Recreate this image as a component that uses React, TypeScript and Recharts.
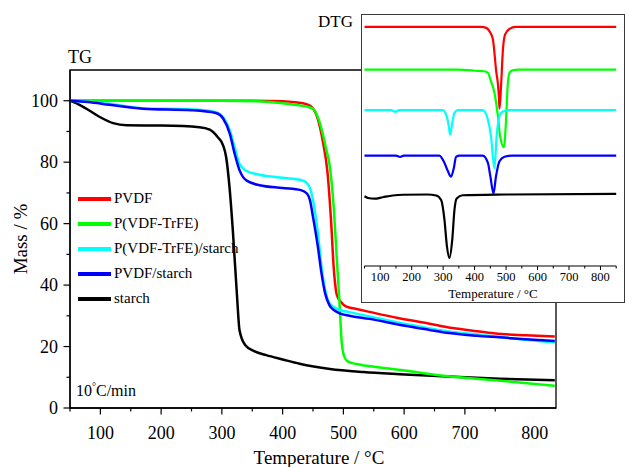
import React from "react";
import { LineChart, Line, XAxis, YAxis, ReferenceArea, Legend } from "recharts";

// ---------- TG data (Mass %) ----------
const pvdfT = [50, 150, 250, 350, 400, 420, 440, 450, 458, 466, 474, 480, 484, 489, 496, 505, 520, 545, 590, 640, 680, 720, 760, 800, 848];
const pvdfM = [100, 100, 100, 100, 99.8, 99.5, 98.8, 97.5, 94, 87, 76.4, 60, 46, 37, 34.5, 33, 32.3, 31.2, 29.3, 27.5, 26, 25, 24.1, 23.7, 23.3];

const trfeT = [50, 200, 300, 360, 400, 430, 445, 452, 460, 466, 472, 477, 484, 489, 494, 497, 501, 506, 515, 530, 560, 600, 660, 720, 780, 848];
const trfeM = [100, 100, 100, 99.8, 99.2, 98.4, 97.8, 97, 93.5, 89.3, 84, 79.5, 65.5, 49.2, 33, 22, 17, 15.3, 14.6, 14, 13.2, 12.2, 10.6, 9.5, 8.5, 7.2];

const trfeStarchT = [50, 80, 115, 170, 250, 290, 302, 313, 321, 329, 340, 362, 400, 430, 440, 446, 452, 458, 464, 470, 477, 485, 494, 510, 543, 590, 640, 674, 720, 757, 800, 848];
const trfeStarchM = [100, 99.7, 99, 97.5, 97.2, 96.3, 94.7, 90.4, 84.9, 79.5, 77.2, 75.9, 74.9, 74.2, 73.2, 71, 65.5, 56.8, 46, 38.4, 34.1, 32.8, 31.9, 31.2, 29.8, 27.8, 26, 24.9, 23.9, 23.1, 22.2, 21.3];

const pvdfStarchT = [50, 80, 115, 170, 250, 290, 302, 313, 321, 329, 340, 362, 400, 430, 440, 445, 450, 458, 464, 470, 477, 485, 494, 510, 543, 590, 640, 674, 720, 757, 800, 848];
const pvdfStarchM = [100, 99.6, 98.7, 97.4, 96.9, 96, 94.2, 89.3, 82.8, 77.4, 74.1, 72.5, 71.6, 70.9, 69.8, 67.6, 62.2, 52.5, 43.8, 37.3, 33.5, 31.8, 30.8, 30, 29, 27.2, 25.5, 24.4, 23.5, 23, 22.4, 21.8];

const starchT = [50, 58, 77, 99, 121, 143, 200, 263, 280, 293, 302, 307, 313, 318, 325, 329, 338, 354, 373, 400, 428, 478, 533, 592, 663, 757, 848];
const starchM = [100, 99.4, 97.4, 94.7, 92.7, 92, 91.9, 91.4, 90.6, 88.2, 85.5, 81.7, 70.9, 57.9, 36.2, 25.4, 20.6, 18.4, 17.2, 15.8, 14.4, 12.7, 11.7, 11, 10.3, 9.5, 9.0];

// ---------- DTG data (arbitrary units, deviation from baseline) ----------
const dtgOffsets = [97, 79.7, 63.2, 44.8, 29];

const dtgPvdfT = [50, 300, 420, 437, 447, 458, 468, 477, 479, 484, 490, 497, 511, 530, 850];
const dtgPvdfV = [0, 0, 0, -0.4, -1.7, -5, -17.3, -28, -33.2, -24, -9.2, -3, -0.8, 0, 0];

const dtgTrfeT = [50, 350, 400, 430, 442, 452, 463, 474, 481, 493, 500, 505, 511, 521, 540, 850];
const dtgTrfeV = [0, 0, -0.5, -0.7, -1.3, -4.8, -9.4, -18.9, -27, -31.5, -20.3, -6.7, -1.3, -0.3, 0, 0];

const dtgTrfeStarchT = [50, 135, 148, 160, 299, 311, 318, 322, 329, 336, 347, 426, 442, 452, 463, 470, 479, 490, 510, 850];
const dtgTrfeStarchV = [0, 0, -0.6, 0, 0, -2.4, -6.5, -9.9, -5.1, -1.1, 0, 0, -3.8, -10.5, -23.6, -10.5, -2.4, -0.5, 0, 0];

const dtgPvdfStarchT = [50, 150, 163, 175, 288, 304, 315, 325, 334, 341, 352, 426, 442, 450, 460, 468, 479, 495, 520, 850];
const dtgPvdfStarchV = [0, 0, -0.5, 0, 0, -2.9, -6.3, -8.6, -5, -0.5, 0, 0, -2.9, -8.4, -15.4, -8.4, -2.3, -0.5, 0, 0];

const dtgStarchT = [50, 61, 82, 108, 140, 172, 250, 278, 294, 304, 312, 320, 329, 336, 343, 362, 500, 850];
const dtgStarchV = [-0.7, -1.4, -1.7, -1.1, -0.4, -0.1, 0, -0.4, -2.3, -10.1, -21, -25.7, -18.2, -6.1, -1.6, -0.3, 0, 0.3];

// ---------- ticks ----------
const mainXTicks = [50, 100, 150, 200, 250, 300, 350, 400, 450, 500, 550, 600, 650, 700, 750, 800];
const mainYTicks = [0, 10, 20, 30, 40, 50, 60, 70, 80, 90, 100];
const insetXTicks = [50, 100, 150, 200, 250, 300, 350, 400, 450, 500, 550, 600, 650, 700, 750, 800, 850];

const names = ["PVDF", "P(VDF-TrFE)", "P(VDF-TrFE)/starch", "PVDF/starch", "starch"];
const colors = ["#ff0000", "#00ff00", "#00ffff", "#0000ff", "#000000"];

const zip = (ts: number[], vs: number[], off = 0) => ts.map((t, i) => ({ t, v: vs[i] + off }));

const tgSeries = [
  { name: names[0], color: colors[0], data: zip(pvdfT, pvdfM) },
  { name: names[1], color: colors[1], data: zip(trfeT, trfeM) },
  { name: names[2], color: colors[2], data: zip(trfeStarchT, trfeStarchM) },
  { name: names[3], color: colors[3], data: zip(pvdfStarchT, pvdfStarchM) },
  { name: names[4], color: colors[4], data: zip(starchT, starchM) },
];
const drawOrder = [4, 0, 1, 2, 3];

const dtgSeries = [
  { name: names[0], color: colors[0], data: zip(dtgPvdfT, dtgPvdfV, dtgOffsets[0]) },
  { name: names[1], color: colors[1], data: zip(dtgTrfeT, dtgTrfeV, dtgOffsets[1]) },
  { name: names[2], color: colors[2], data: zip(dtgTrfeStarchT, dtgTrfeStarchV, dtgOffsets[2]) },
  { name: names[3], color: colors[3], data: zip(dtgPvdfStarchT, dtgPvdfStarchV, dtgOffsets[3]) },
  { name: names[4], color: colors[4], data: zip(dtgStarchT, dtgStarchV, dtgOffsets[4]) },
];

const FONT = '"Liberation Serif", "Times New Roman", serif';

const MainXTick = (p: any) => {
  const { x, y, payload } = p;
  const v = payload.value;
  const major = v % 100 === 0;
  return (
    <g>
      {v !== 800 && (
        <line x1={x} x2={x} y1={y} y2={y + (major ? 6.5 : 3.5)} stroke="#000" strokeWidth={1.2} />
      )}
      {major && (
        <text x={x + (v === 800 ? 9 : 0)} y={y + 31} textAnchor="middle" fontFamily={FONT} fontSize={18} fill="#000">
          {v}
        </text>
      )}
    </g>
  );
};

const MainYTick = (p: any) => {
  const { x, y, payload } = p;
  const v = payload.value;
  const major = v % 20 === 0;
  return (
    <g>
      <line x1={x - (major ? 6.5 : 3.5)} x2={x} y1={y} y2={y} stroke="#000" strokeWidth={1.2} />
      {major && (
        <text x={x - 12} y={y + 6} textAnchor="end" fontFamily={FONT} fontSize={18} fill="#000">
          {v}
        </text>
      )}
    </g>
  );
};

const InsetXTick = (p: any) => {
  const { x, y, payload } = p;
  const v = payload.value;
  const major = v % 100 === 0;
  return (
    <g>
      <line x1={x} x2={x} y1={y} y2={y + (major ? 4 : 2.5)} stroke="#000" strokeWidth={1} />
      {major && v <= 800 && (
        <text x={x} y={y + 15.2} textAnchor="middle" fontFamily={FONT} fontSize={12.5} fill="#000">
          {v}
        </text>
      )}
    </g>
  );
};

const LegendBox = () => (
  <div style={{ fontFamily: FONT, fontSize: 15, color: "#000" }}>
    {tgSeries.map((s) => (
      <div key={s.name} style={{ display: "flex", alignItems: "center", height: 25 }}>
        <div style={{ width: 33, height: 4, background: s.color, marginRight: 3 }} />
        <span style={{ lineHeight: "25px", whiteSpace: "nowrap" }}>{s.name}</span>
      </div>
    ))}
  </div>
);

export default function App() {
  return (
    <div style={{ position: "absolute", left: 0, top: 0, width: 625, height: 467, background: "#fff", overflow: "hidden" }}>
      <LineChart width={625} height={467} margin={{ top: 70, right: 69, bottom: 0, left: 0 }}>
        <XAxis
          type="number"
          dataKey="t"
          domain={[50, 850]}
          ticks={mainXTicks}
          interval={0}
          tickSize={0}
          tickMargin={0}
          tickLine={false}
          tick={MainXTick}
          height={59}
          axisLine={{ stroke: "#000", strokeWidth: 1.3 }}
          allowDataOverflow
        />
        <YAxis
          type="number"
          domain={[0, 110]}
          ticks={mainYTicks}
          interval={0}
          tickSize={0}
          tickMargin={0}
          tickLine={false}
          tick={MainYTick}
          width={70}
          axisLine={{ stroke: "#000", strokeWidth: 1.3 }}
          allowDataOverflow
        />
        <ReferenceArea x1={50} x2={850} y1={0} y2={110} fill="none" stroke="#000" strokeWidth={1.3} />
        {drawOrder.map((i) => {
          const s = tgSeries[i];
          return (
            <Line
              key={s.name}
              name={s.name}
              data={s.data}
              dataKey="v"
              type="monotone"
              stroke={s.color}
              strokeWidth={2.5}
              dot={false}
              activeDot={false}
              isAnimationActive={false}
            />
          );
        })}
        <Legend
          layout="horizontal"
          verticalAlign="middle"
          align="center"
          content={LegendBox}
          wrapperStyle={{ position: "absolute", left: 78, top: 186, width: "auto" }}
        />
      </LineChart>

      <div
        style={{
          position: "absolute",
          left: 361,
          top: 14,
          width: 264,
          height: 289,
          boxSizing: "border-box",
          border: "1.5px solid #3a3a3a",
          background: "#fff",
        }}
      >
        <LineChart width={261} height={286} margin={{ top: 4.5, right: 6.8, bottom: 0, left: 2.5 }}>
          <XAxis
            type="number"
            dataKey="t"
            domain={[50, 850]}
            ticks={insetXTicks}
            interval={0}
            tickSize={0}
            tickMargin={0}
            tickLine={false}
            tick={InsetXTick}
            height={35}
            axisLine={{ stroke: "#000", strokeWidth: 1.2 }}
          />
          <YAxis type="number" domain={[0, 100]} hide />
          {dtgSeries.map((s) => (
            <Line
              key={s.name}
              name={s.name}
              data={s.data}
              dataKey="v"
              type="monotone"
              stroke={s.color}
              strokeWidth={2.2}
              dot={false}
              activeDot={false}
              isAnimationActive={false}
            />
          ))}
        </LineChart>
      </div>

      <svg width={625} height={467} style={{ position: "absolute", left: 0, top: 0, pointerEvents: "none" }}>
        <g fontFamily={FONT} fill="#000">
          <text x={68} y={63.3} fontSize={18}>TG</text>
          <text x={318} y={26.5} fontSize={17}>DTG</text>
          <text x={27} y={239} fontSize={19} textAnchor="middle" transform="rotate(-90, 27, 239)">Mass / %</text>
          <text x={319} y={464} fontSize={19} textAnchor="middle">Temperature / °C</text>
          <text x={493} y={297.7} fontSize={13} textAnchor="middle">Temperature / °C</text>
          <text x={76} y={395.7} fontSize={16}>
            10<tspan dy={-6} fontSize={10}>°</tspan>
            <tspan dy={6}>C/min</tspan>
          </text>
        </g>
      </svg>
    </div>
  );
}
